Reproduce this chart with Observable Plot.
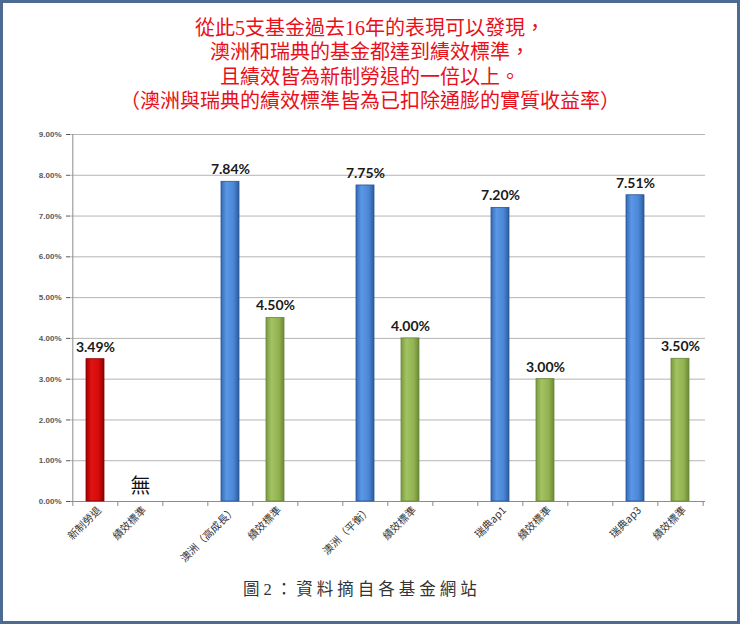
<!DOCTYPE html>
<html><head><meta charset="utf-8">
<script src="https://cdn.jsdelivr.net/npm/d3@7"></script>
<script src="https://cdn.jsdelivr.net/npm/@observablehq/plot@0.6"></script>
<style>
body{margin:0;background:#fff;}
#wrap{position:relative;width:740px;height:624px;overflow:hidden;background:#fff;}
#frame{position:absolute;left:0;top:0;width:740px;height:624px;border:3px solid #4d6a93;box-sizing:border-box;pointer-events:none;}
#title{position:absolute;top:16px;left:0;width:740px;text-align:center;color:#e8101a;font-family:"Liberation Serif","Noto Sans CJK TC",serif;font-size:20px;line-height:24.3px;}
#chart{position:absolute;top:116px;left:0;}
#caption{position:absolute;top:576px;left:243px;font-family:"Liberation Serif","Noto Sans CJK TC",serif;font-size:16.5px;letter-spacing:4px;color:#333;white-space:nowrap;}
</style></head>
<body><div id="wrap">
<div id="title">從此5支基金過去16年的表現可以發現，<br>澳洲和瑞典的基金都達到績效標準，<br>且績效皆為新制勞退的一倍以上。<br>（澳洲與瑞典的績效標準皆為已扣除通膨的實質收益率）</div>
<div id="chart"></div>
<div id="caption">圖2：資料摘自各基金網站</div>
<div id="frame"></div>
</div>
<script>
const categories = ["新制勞退","績效標準","","澳洲（高成長）","績效標準","","澳洲（平衡）","績效標準","","瑞典ap1","績效標準","","瑞典ap3","績效標準"];
const values = [3.49, null, null, 7.84, 4.50, null, 7.75, 4.00, null, 7.20, 3.00, null, 7.51, 3.50];
const kinds = ["labor","bench","gap","fund","bench","gap","fund","bench","gap","fund","bench","gap","fund","bench"];
const yTicks = [0,1,2,3,4,5,6,7,8,9];
const missingNote = [{i: 1, text: "無"}];

const W = 740, H = 450, mL = 70, mR = 35, mT = 18, mB = 65;
const step = (W - mL - mR) / categories.length;
const idx = categories.map((_, i) => i);
const rows = idx.filter(i => values[i] != null).map(i => ({i, v: values[i], kind: kinds[i]}));

const fillOf = {labor: "url(#gRed)", fund: "url(#gBlue)", bench: "url(#gGreen)"};
const strokeOf = {labor: "#8a0000", fund: "#2a5594", bench: "#68873a"};

const defs = () => {
  const d = d3.create("svg:defs");
  const add = (id, stops) => {
    const g = d.append("linearGradient").attr("id", id).attr("x1", 0).attr("x2", 1).attr("y1", 0).attr("y2", 0);
    stops.forEach(([o, c]) => g.append("stop").attr("offset", o).attr("stop-color", c));
  };
  add("gRed", [[0, "#a00000"], [0.3, "#e21212"], [0.7, "#d50c0c"], [1, "#8e0000"]]);
  add("gBlue", [[0, "#3569b5"], [0.3, "#5a98e6"], [0.7, "#4b87d6"], [1, "#2c5c9f"]]);
  add("gGreen", [[0, "#7a9a40"], [0.3, "#a3c262"], [0.7, "#93b352"], [1, "#6b8a35"]]);
  return d.node();
};

const plot = Plot.plot({
  width: W, height: H,
  marginLeft: mL, marginRight: mR, marginTop: mT, marginBottom: mB,
  style: {fontFamily: "'Noto Sans CJK TC', sans-serif", background: "transparent"},
  x: {domain: idx, paddingInner: 0.59, paddingOuter: 0.295, axis: null, label: null},
  y: {domain: [0, 9], axis: null, label: null},
  marks: [
    defs,
    Plot.gridY(yTicks.slice(1), {stroke: "#b4b4b4", strokeOpacity: 1}),
    Plot.ruleX([0], {x: d => d, y1: 0, y2: 9, dx: -step / 2, stroke: "#8c8c8c"}),
    Plot.ruleY([0], {stroke: "#8c8c8c"}),
    Plot.ruleX(idx, {x: d => d, y1: 0, y2: 0, insetBottom: -5, dx: -step / 2, stroke: "#8c8c8c"}),
    Plot.ruleX([idx[idx.length - 1]], {x: d => d, y1: 0, y2: 0, insetBottom: -5, dx: step / 2, stroke: "#8c8c8c"}),
    Plot.axisY(yTicks, {label: null, tickFormat: d => d.toFixed(2) + "%", tickSize: 4, tickPadding: 5, fontSize: 8, fontWeight: "bold", fontFamily: "'Liberation Sans', sans-serif", color: "#595959"}),
    Plot.axisX(idx, {label: null, tickFormat: i => categories[i], tickRotate: -45, tickSize: 0, tickPadding: 7, dx: 4, fontSize: 10.5, fill: "#333"}),
    Plot.barY(rows, {x: "i", y: "v", fill: d => fillOf[d.kind], stroke: d => strokeOf[d.kind], strokeWidth: 0.8}),
    Plot.text(rows, {x: "i", y: "v", text: d => d.v.toFixed(2) + "%", dy: -12, fontSize: 14, fontWeight: "bold", fontFamily: "Lato, sans-serif", fill: "#1a1a1a"}),
    Plot.text(missingNote, {x: "i", y: 0, text: "text", dy: -15, fontSize: 20, fill: "#111", fontFamily: "'Liberation Serif','Noto Sans CJK TC',serif"})
  ]
});
document.getElementById("chart").appendChild(plot);
</script>
</body></html>
